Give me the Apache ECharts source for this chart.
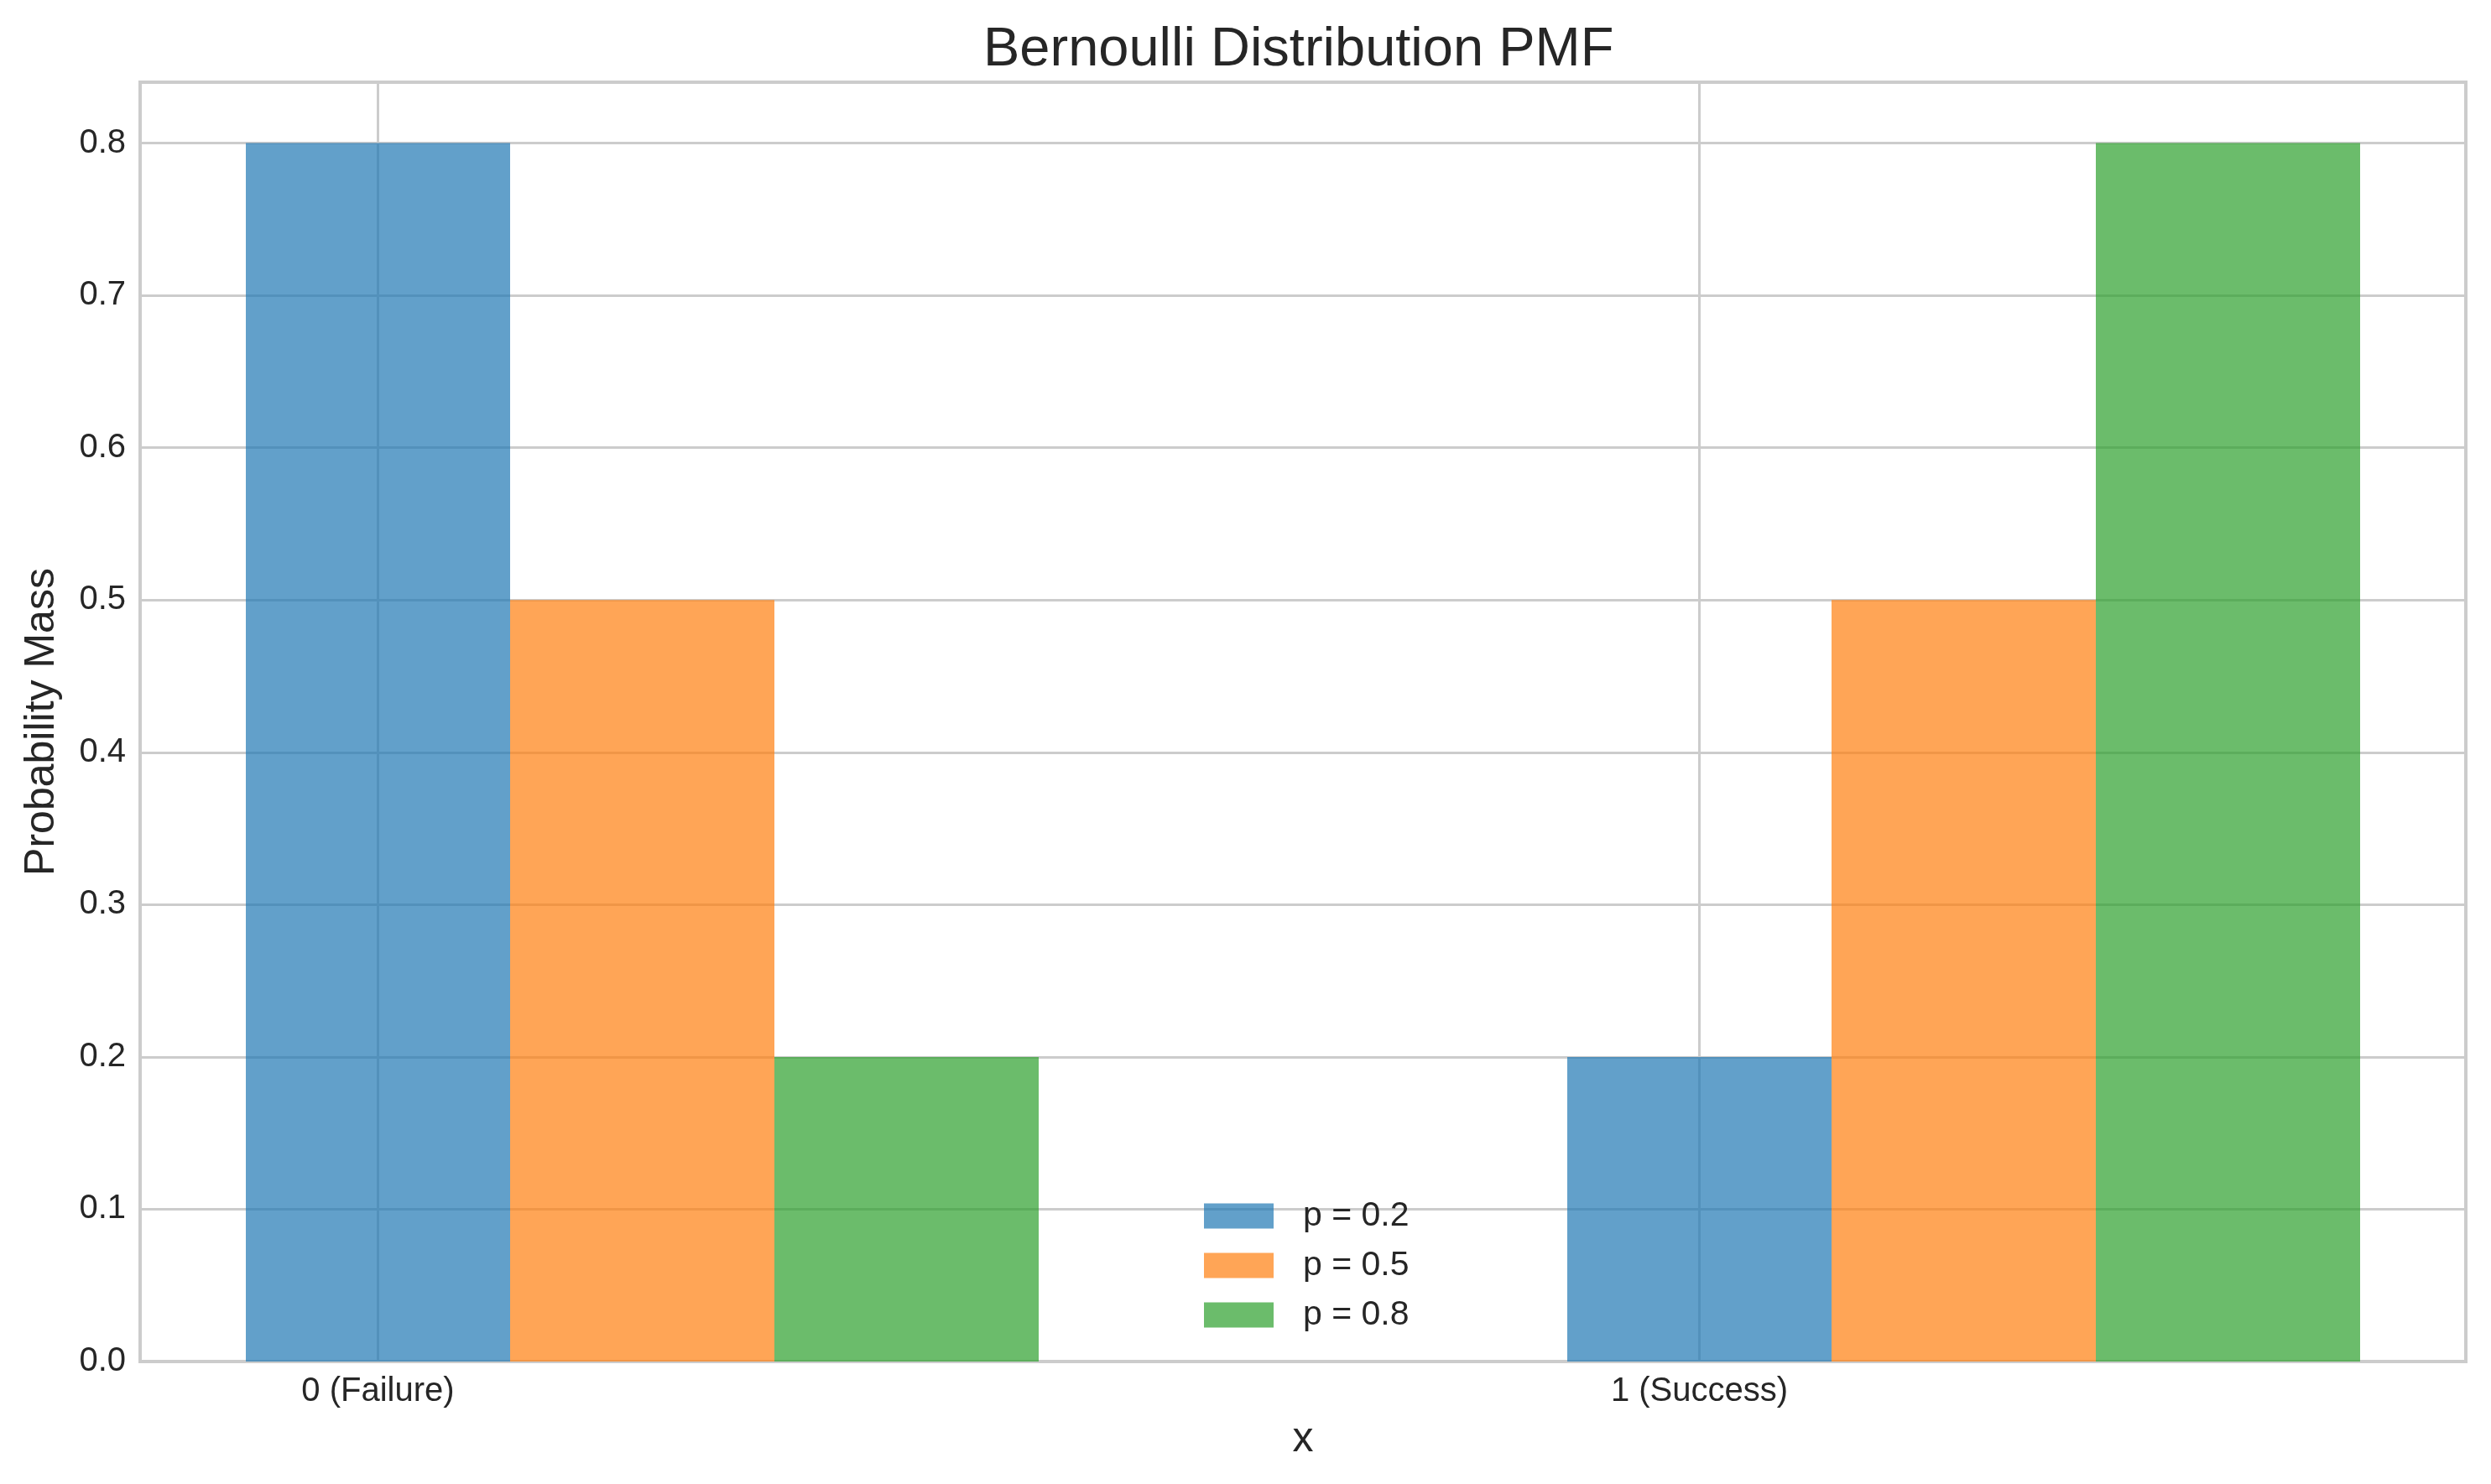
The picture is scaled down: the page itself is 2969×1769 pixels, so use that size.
<!DOCTYPE html>
<html>
<head>
<meta charset="utf-8">
<title>Bernoulli Distribution PMF</title>
<script src="https://cdn.jsdelivr.net/npm/echarts@6/dist/echarts.min.js"></script>
<style>
  html, body { margin: 0; padding: 0; background: #ffffff; }
  #chart { width: 2969px; height: 1769px; }
</style>
</head>
<body>
<div id="chart"></div>
<script>
// categories on the x axis (outcome 0 and 1)
var categories = ['0 (Failure)', '1 (Success)'];
var outcomes = [0, 1];
// one series per success probability p
var seriesNames = ['p = 0.2', 'p = 0.5', 'p = 0.8'];
var pmfP02 = [0.8, 0.2];
var pmfP05 = [0.5, 0.5];
var pmfP08 = [0.2, 0.8];
var yTicks = [0, 0.1, 0.2, 0.3, 0.4, 0.5, 0.6, 0.7, 0.8];

var seriesValues = [pmfP02, pmfP05, pmfP08];
var colors = ['rgba(31,119,180,0.7)', 'rgba(255,127,14,0.7)', 'rgba(44,160,44,0.7)'];
var barWidth = 0.2;
var textColor = '#262626';
var gridColor = '#cccccc';
var fontName = "'Liberation Sans', Arial, sans-serif";

function renderBar(params, api) {
	var x = api.value(0), v = api.value(1);
	var p0 = api.coord([x - barWidth / 2, v]);
	var p1 = api.coord([x + barWidth / 2, 0]);
	return {
		type: 'rect',
		shape: {x: p0[0], y: p0[1], width: p1[0] - p0[0], height: p1[1] - p0[1]},
		style: api.style()
	};
}

var series = [];
for(var i = 0; i < seriesNames.length; i++) {
	var data = [];
	for(var j = 0; j < outcomes.length; j++) {
		data.push([outcomes[j] + i * barWidth, seriesValues[i][j]]);
	}
	series.push({
		name: seriesNames[i],
		type: 'custom',
		renderItem: renderBar,
		encode: {x: 0, y: 1},
		itemStyle: {color: colors[i]},
		data: data
	});
}

var chart = echarts.init(document.getElementById('chart'));
chart.setOption({
	backgroundColor: '#ffffff',
	animation: false,
	textStyle: {fontFamily: fontName, color: textColor},
	title: {
		text: 'Bernoulli Distribution PMF',
		left: 1167,
		top: 23,
		textStyle: {fontSize: 65, fontWeight: 'normal', color: textColor, fontFamily: fontName}
	},
	legend: {
		orient: 'vertical',
		left: 1430,
		top: 1424,
		icon: 'rect',
		itemWidth: 83,
		itemHeight: 30,
		itemGap: 18,
		textStyle: {fontSize: 41, color: textColor, fontFamily: fontName, padding: [0, 0, 0, 30]},
		data: seriesNames
	},
	grid: {
		left: 167,
		right: 30,
		top: 98,
		bottom: 146,
		show: true,
		borderColor: gridColor,
		borderWidth: 4,
		containLabel: false
	},
	xAxis: {
		type: 'value',
		min: -0.18,
		max: 1.58,
		name: 'x',
		nameLocation: 'middle',
		nameGap: 68,
		nameTextStyle: {fontSize: 50, color: textColor},
		axisLine: {show: false},
		axisTick: {show: false, customValues: outcomes},
		splitLine: {show: true, lineStyle: {color: gridColor, width: 3}},
		axisLabel: {
			customValues: outcomes,
			fontSize: 40,
			color: textColor,
			margin: 16,
			formatter: function(v) {
				var k = outcomes.indexOf(Math.round(v));
				return k >= 0 ? categories[k] : '';
			}
		}
	},
	yAxis: {
		type: 'value',
		min: 0,
		max: 0.84,
		name: 'Probability Mass',
		nameLocation: 'middle',
		nameGap: 92,
		nameRotate: 90,
		nameTextStyle: {fontSize: 50, color: textColor},
		axisLine: {show: false},
		axisTick: {show: false, customValues: yTicks},
		splitLine: {show: true, lineStyle: {color: gridColor, width: 3}},
		axisLabel: {
			customValues: yTicks,
			fontSize: 40,
			color: textColor,
			margin: 17,
			formatter: function(v) { return v.toFixed(1); }
		}
	},
	series: series
});
</script>
</body>
</html>
